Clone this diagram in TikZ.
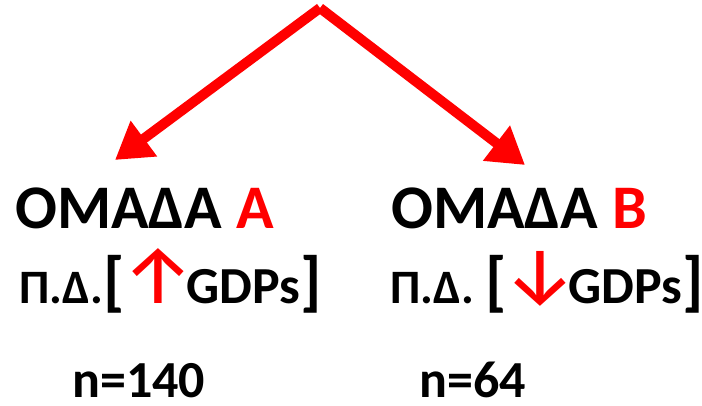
\documentclass[tikz,border=0pt]{standalone}
\usepackage{fontspec}
\setmainfont{Carlito}
\newfontfamily\arrowfont{Fira Sans}
\usetikzlibrary{arrows.meta,positioning}

\tikzstyle{title} = [anchor=base west, inner sep=0pt, font=\bfseries\fontsize{62}{64}\selectfont]
\tikzstyle{sub} = [anchor=base west, inner sep=0pt, font=\bfseries\fontsize{48}{50}\selectfont]
\tikzstyle{count} = [anchor=base west, inner sep=0pt, font=\bfseries\fontsize{52}{54}\selectfont]
\tikzstyle{branch} = [draw=red, line width=10pt, -{Triangle[width=42pt,length=36pt]}]
\newcommand{\brk}[1]{{\fontsize{66}{66}\selectfont #1}}
\newcommand{\gdp}{{\fontsize{52}{52}\selectfont GDPs}}
\newcommand{\arr}[1]{{\arrowfont\mdseries\fontsize{82}{82}\selectfont\kern-3pt\textcolor{red}{#1}\kern-9pt}}

\begin{document}
\begin{tikzpicture}[x=1pt, y=-1pt]
\useasboundingbox (0,0) rectangle (702,406);
\coordinate (top) at (320,8);
\coordinate (tipA) at (115,160);
\coordinate (tipB) at (525,165);
\draw [branch] (top) -- (tipA);
\draw [branch] (top) -- (tipB);
\node [title] (grpA) at (15,229) {ΟΜΑΔΑ \textcolor{red}{Α}};
\node [title] (grpB) at (391,229) {ΟΜΑΔΑ \textcolor{red}{Β}};
\node [sub] (pdA) at (19,304) {Π.Δ.\brk{[}\arr{↑}\gdp\brk{]}};
\node [sub] (pdB) at (390,304) {Π.Δ. \brk{[}\arr{↓}\gdp\brk{]}};
\node [count] (nA) at (72,397) {n=140};
\node [count] (nB) at (419,397) {n=64};
\end{tikzpicture}
\end{document}
